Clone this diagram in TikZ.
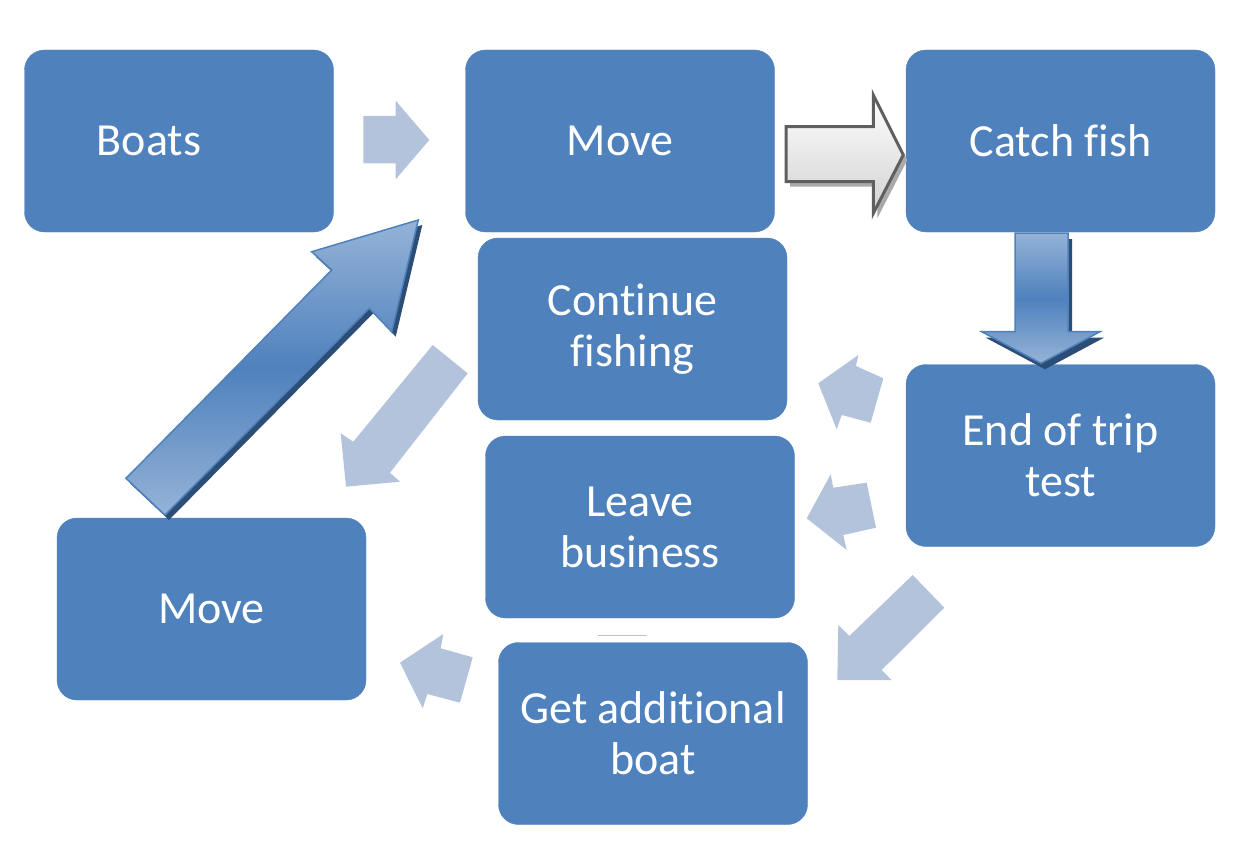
\documentclass[tikz,border=0pt]{standalone}
\usepackage{fontspec}
\setmainfont{Carlito}[Ligatures=NoCommon]
\definecolor{boxblue}{RGB}{79,129,189}
\definecolor{lightarrow}{RGB}{180,195,220}
\definecolor{gradlight}{RGB}{149,179,215}
\definecolor{darkshadow}{RGB}{44,77,117}
\definecolor{grayline}{RGB}{95,95,95}
\definecolor{grayshadow}{RGB}{170,170,170}
\tikzset{
  box/.style={rectangle, rounded corners=20pt, fill=boxblue, draw=boxblue,
    minimum width=309pt, minimum height=182pt, inner sep=0pt, align=center,
    text=white, font=\fontsize{46}{51}\selectfont},
  lightblock/.style={fill=lightarrow, draw=none},
  bluegrad/.style={top color=gradlight, bottom color=gradlight, middle color=boxblue,
    draw=boxblue, line width=1.5pt, line join=miter},
  darkshad/.style={fill=darkshadow, draw=none},
  graygrad/.style={top color=white, bottom color=black!18, draw=grayline,
    line width=3pt, line join=miter},
  grayshad/.style={fill=grayshadow, draw=none}
}
\begin{document}
\begin{tikzpicture}[x=1pt,y=-1pt]
\useasboundingbox (0,0) rectangle (1248,864);

% boxes
\node[box] (boats) at (179,141) {Boats\hspace*{60pt}};
\node[box] (move1) at (620,141) {Move};
\node[box] (catch) at (1060.5,141) {Catch fish};
\node[box] (cont) at (632.5,329) {Continue\\fishing};
\node[box] (endt) at (1060.5,455.5) {End of trip\\test};
\node[box] (leave) at (640,527) {Leave\\business};
\node[box] (move2) at (211.5,609) {Move};
\node[box] (getb) at (653,733.5) {Get additional\\boat};

% faint line
\draw[lightarrow, line width=1pt] (598,635) -- (647,635);

% Boats -> Move
\fill[lightblock] (363.3,116) -- (395.7,116) -- (395.7,100.7) -- (429.3,140)
  -- (395.7,179.3) -- (395.7,163.3) -- (363.3,163.3) -- cycle;

% Move -> Catch fish (gray, outlined, shadow)
\fill[grayshad] (790,131.7) -- (877.3,131.7) -- (877.3,100) -- (907.3,160)
  -- (877.3,218.3) -- (877.3,186.7) -- (790,186.7) -- cycle;
\path[graygrad] (786,126.7) -- (873.3,126.7) -- (873.3,95) -- (903.3,155)
  -- (873.3,213.3) -- (873.3,181.7) -- (786,181.7) -- cycle;

% Catch fish -> End of trip test
\fill[darkshad] (1019,239) -- (1072,239) -- (1072,337.7) -- (1104,337.7)
  -- (1045,369.3) -- (985.7,337.7) -- (1019,337.7) -- cycle;
\path[bluegrad] (1015,233) -- (1068,233) -- (1068,331.7) -- (1100,331.7)
  -- (1041,363.3) -- (981.7,331.7) -- (1015,331.7) -- cycle;

% End -> Continue
\fill[lightblock] (818.3,383.3) -- (858.3,355) -- (856,366) -- (883.3,378.3)
  -- (870.7,422.7) -- (841.7,415) -- (836.7,429.3) -- cycle;
% End -> Leave
\fill[lightblock] (806.7,518.3) -- (830.7,474.3) -- (833.3,487.7) -- (866.7,482.7)
  -- (876,527.7) -- (843.3,535) -- (846.7,550) -- cycle;
% End -> Get additional boat
\fill[lightblock] (912.7,575) -- (849.3,636) -- (838.3,625) -- (837.3,680)
  -- (891.7,680) -- (881.7,670) -- (944.3,607.7) -- cycle;
% Continue -> Move (bottom)
\fill[lightblock] (432.7,345) -- (353.3,441.7) -- (340.7,433.3) -- (346,486.7)
  -- (400,481.7) -- (390,472.7) -- (467.7,373.3) -- cycle;
% Get -> Move (bottom)
\fill[lightblock] (400,662.7) -- (443.3,634) -- (440.7,648.3) -- (472.7,657.3)
  -- (460,702.7) -- (427.3,694) -- (422.7,708.3) -- cycle;

% Move (bottom) -> Move (top)
\fill[darkshad] (130,483.3) -- (335.7,275) -- (315.7,256.7) -- (422.3,225)
  -- (395.7,336.7) -- (373.3,313.3) -- (169,520) -- cycle;
\path[bluegrad] (126,478.3) -- (331.7,270) -- (311.7,251.7) -- (418.3,220)
  -- (391.7,331.7) -- (369.3,308.3) -- (165,515) -- cycle;
\end{tikzpicture}
\end{document}
